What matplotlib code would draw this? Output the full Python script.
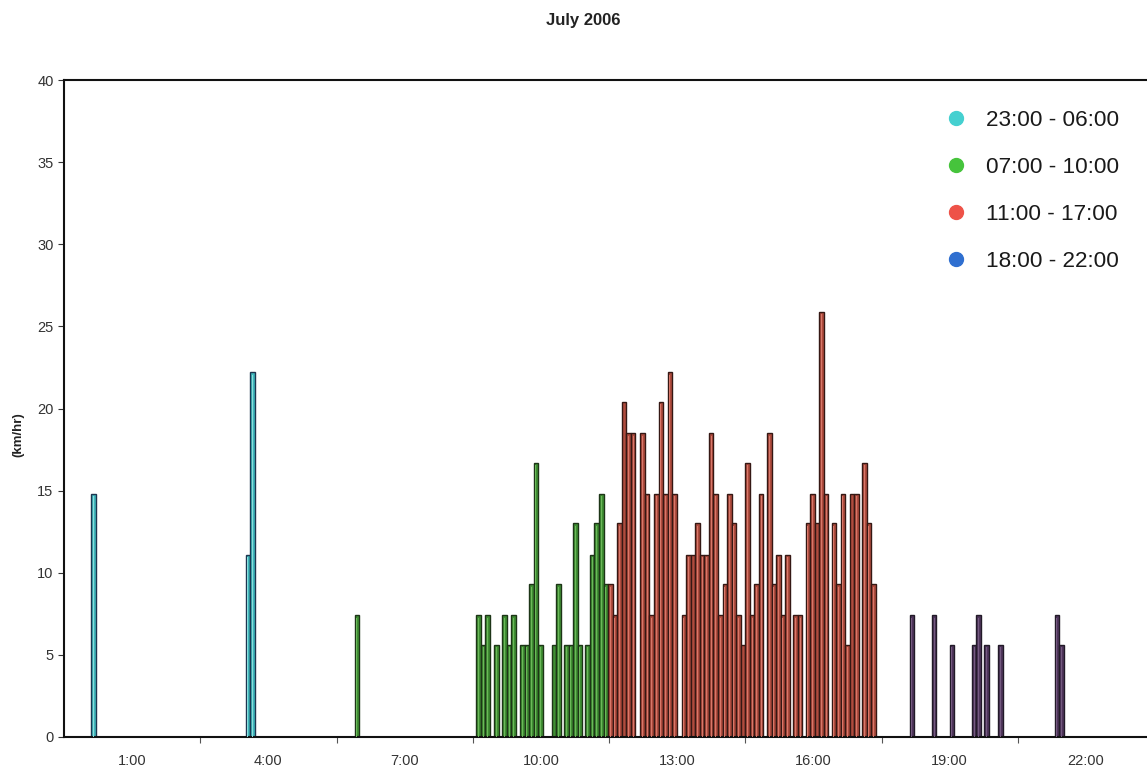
import matplotlib
matplotlib.use('Agg')
import matplotlib.pyplot as plt
from matplotlib.lines import Line2D

plt.rcParams['font.family'] = ['Liberation Sans', 'DejaVu Sans']

# wind speed per 6-minute reading, grouped by period of the day
# each run: start time (hours) and consecutive readings (km/hr)
night_starts = [0.1, 3.5]
night_speeds = [[14.8], [11.1, 22.2]]

morning_starts = [5.9, 8.58, 8.97, 9.15, 9.54, 10.24, 10.51, 10.98]
morning_speeds = [[7.4], [7.4, 5.6, 7.4], [5.6], [7.4, 5.6, 7.4],
                  [5.6, 5.6, 9.3, 16.7, 5.6], [5.6, 9.3], [5.6, 5.6, 13.0, 5.6],
                  [5.6, 11.1, 13.0, 14.8, 9.3]]

day_starts = [11.48, 12.19, 13.10, 14.98, 15.56, 15.83, 16.40, 17.07]
day_speeds = [[9.3, 7.4, 13.0, 20.4, 18.5, 18.5],
              [18.5, 14.8, 7.4, 14.8, 20.4, 14.8, 22.2, 14.8],
              [7.4, 11.1, 11.1, 13.0, 11.1, 11.1, 18.5, 14.8, 7.4, 9.3, 14.8, 13.0,
               7.4, 5.6, 16.7, 7.4, 9.3, 14.8],
              [18.5, 9.3, 11.1, 7.4, 11.1],
              [7.4, 7.4],
              [13.0, 14.8, 13.0, 25.9, 14.8],
              [13.0, 9.3, 14.8, 5.6, 14.8, 14.8],
              [16.7, 13.0, 9.3]]

evening_starts = [18.12, 18.61, 19.00, 19.49, 19.76, 20.07, 21.31]
evening_speeds = [[7.4], [7.4], [5.6], [5.6, 7.4], [5.6], [5.6], [7.4, 5.6]]

period_labels = ['23:00 - 06:00', '07:00 - 10:00', '11:00 - 17:00', '18:00 - 22:00']
tick_hours = [1, 4, 7, 10, 13, 16, 19, 22]
tick_labels = ['1:00', '4:00', '7:00', '10:00', '13:00', '16:00', '19:00', '22:00']

BAR_W = 0.1  # one reading = 6 minutes


def flatten(starts, speeds):
    xs, ys = [], []
    for s, run in zip(starts, speeds):
        for i, v in enumerate(run):
            xs.append(s + i * BAR_W)
            ys.append(v)
    return xs, ys


fig = plt.figure(figsize=(11.47, 7.71), dpi=100)
ax = fig.add_axes([64 / 1147, 34 / 771, 1090 / 1147, 657 / 771])

groups = [
    (night_starts, night_speeds, '#3fb8bc', '#8adcdc', '#1c3550'),
    (morning_starts, morning_speeds, '#3f8f33', '#6cb85a', '#1d3517'),
    (day_starts, day_speeds, '#b04c3e', '#d8786a', '#351814'),
    (evening_starts, evening_speeds, '#50365c', '#745a80', '#221a28'),
]
for starts, speeds, fill, light, edge in groups:
    xs, ys = flatten(starts, speeds)
    ax.bar(xs, ys, width=BAR_W, align='edge', color=fill, edgecolor=edge,
           linewidth=1.0, zorder=2)
    # thin lighter line in the middle of each bar (gradient look)
    ax.bar([x + BAR_W * 0.4 for x in xs], [y - 0.15 for y in ys], width=BAR_W * 0.2,
           align='edge', color=light, linewidth=0, zorder=3)

ax.set_xlim(-0.5, 23.5)
ax.set_ylim(0, 40)
ax.set_yticks(range(0, 41, 5))
ax.tick_params(axis='y', labelsize=10.5, length=4, width=0.8, colors='#333333')
ax.set_xticks(tick_hours)
ax.set_xticklabels(tick_labels)
ax.set_xticks([2.5, 5.5, 8.5, 11.5, 14.5, 17.5, 20.5], minor=True)
ax.tick_params(axis='x', which='major', length=0, labelsize=10.5, pad=12, colors='#333333')
ax.tick_params(axis='x', which='minor', length=4, width=0.8, color='#555555')
for sp in ax.spines.values():
    sp.set_linewidth(1.5)
    sp.set_color('#111111')

fig.text(583 / 1147, 1 - 20 / 771, 'July 2006', ha='center', va='center',
         fontsize=12, fontweight='bold', color='#222222')
fig.text(18 / 1147, 1 - 435 / 771, '(km/hr)', ha='center', va='center',
         rotation=90, fontsize=9.5, fontweight='bold', color='#222222')

legend_colors = ['#45d0d0', '#46c43c', '#ee5248', '#2f6fd0']
handles = [Line2D([], [], linestyle='none', marker='o', markersize=10,
                  markerfacecolor=c, markeredgecolor=c) for c in legend_colors]
ax.legend(handles, period_labels, loc='upper left', frameon=False,
          bbox_to_anchor=(925 / 1147, 1 - 90 / 771), bbox_transform=fig.transFigure,
          fontsize=16.2, labelspacing=1.15, handlelength=1.0, handletextpad=0.8,
          labelcolor='#1a1a1a')

fig.savefig('out.png', dpi=100)
